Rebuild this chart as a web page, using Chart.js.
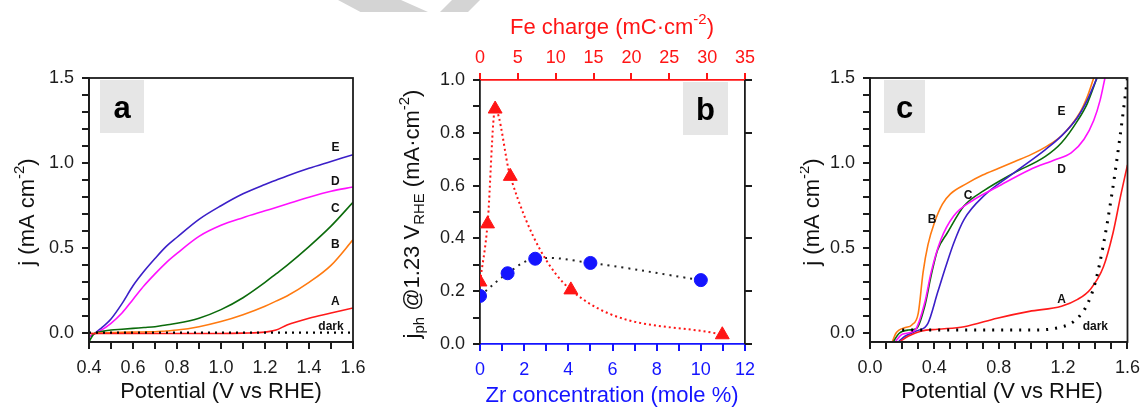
<!DOCTYPE html>
<html>
<head>
    <title>Photocurrent panels</title>
    <script src="https://cdn.jsdelivr.net/npm/chart.js"></script>
    <style>
        body { margin: 0; width: 1148px; height: 407px; background: #fff; overflow: hidden; position: relative; }
        canvas { position: absolute; top: 0; }
        #chartA { left: 0; }
        #chartB { left: 380px; }
        #chartC { left: 800px; }
        .shade { position: absolute; top: 0; height: 12px; background: #d4d4d4; }
    </style>
</head>
<body>
    <div class="shade" style="left:338px;width:90px;clip-path:polygon(0 0,70% 0,100% 100%,25% 100%)"></div>
    <div class="shade" style="left:440px;width:40px;clip-path:polygon(30% 0,100% 0,70% 100%,0 100%)"></div>
    <canvas id="chartA" width="375" height="407"></canvas>
    <canvas id="chartB" width="410" height="407"></canvas>
    <canvas id="chartC" width="348" height="407"></canvas>

    <script>
        // ---- panel a : j vs potential ----
        const aPotential = [0.40, 0.42, 0.45, 0.50, 0.55, 0.60, 0.65, 0.70, 0.75, 0.80, 0.90, 1.00, 1.10, 1.20, 1.25, 1.30, 1.40, 1.50, 1.60];
        const aE = [-0.02, -0.005, 0.025, 0.085, 0.175, 0.28, 0.365, 0.44, 0.51, 0.565, 0.67, 0.75, 0.82, 0.875, 0.90, 0.925, 0.97, 1.01, 1.05];
        const aD = [-0.02, -0.005, 0.015, 0.06, 0.12, 0.20, 0.28, 0.35, 0.415, 0.47, 0.57, 0.635, 0.68, 0.72, 0.74, 0.76, 0.80, 0.835, 0.86];
        const aC = [-0.05, -0.005, 0.01, 0.02, 0.025, 0.03, 0.035, 0.04, 0.05, 0.06, 0.09, 0.14, 0.21, 0.30, 0.35, 0.40, 0.51, 0.63, 0.77];
        const aB = [0.0, 0.0, 0.003, 0.005, 0.007, 0.008, 0.009, 0.01, 0.015, 0.02, 0.04, 0.07, 0.11, 0.16, 0.19, 0.22, 0.30, 0.40, 0.55];
        const aA = [0.0, 0.0, 0.0, 0.0, 0.0, 0.0, 0.0, 0.0, 0.0, 0.0, 0.0, 0.0, 0.002, 0.008, 0.02, 0.05, 0.09, 0.12, 0.15];
        const aDark = [0.005, 0.005, 0.005, 0.005, 0.005, 0.005, 0.005, 0.005, 0.005, 0.005, 0.005, 0.005, 0.005, 0.005, 0.005, 0.005, 0.005, 0.005, 0.005];
        const aLabelText = ['E', 'D', 'C', 'B', 'A', 'dark'];
        const aLabelX = [1.52, 1.52, 1.52, 1.52, 1.52, 1.50];
        const aLabelY = [1.09, 0.89, 0.735, 0.52, 0.185, 0.04];

        // ---- panel b : j_ph at 1.23 V vs Zr content / Fe charge ----
        const zrConc = [0, 1.25, 2.5, 5, 10];
        const zrJph = [0.182, 0.268, 0.323, 0.307, 0.242];
        const feCharge = [0, 1, 2, 4, 12, 32];
        const feJph = [0.235, 0.455, 0.89, 0.635, 0.205, 0.035];

        // ---- panel c : j vs potential with hole scavenger ----
        const cB_x = [0.14, 0.16, 0.18, 0.22, 0.26, 0.30, 0.33, 0.36, 0.40, 0.45, 0.50, 0.60, 0.70, 0.80, 0.90, 1.00, 1.10, 1.20, 1.30, 1.35, 1.39];
        const cB_y = [-0.045, 0.0, 0.02, 0.035, 0.05, 0.12, 0.36, 0.52, 0.65, 0.76, 0.82, 0.88, 0.93, 0.97, 1.01, 1.05, 1.10, 1.17, 1.29, 1.39, 1.50];
        const cC_x = [0.147, 0.18, 0.24, 0.29, 0.34, 0.38, 0.42, 0.48, 0.585, 0.71, 0.89, 1.09, 1.19, 1.29, 1.35, 1.41];
        const cC_y = [-0.045, 0.0, 0.02, 0.03, 0.16, 0.34, 0.49, 0.59, 0.75, 0.84, 0.94, 1.04, 1.12, 1.25, 1.35, 1.50];
        const cE_x = [0.18, 0.22, 0.29, 0.36, 0.42, 0.47, 0.52, 0.585, 0.71, 0.89, 1.09, 1.19, 1.29, 1.35, 1.41];
        const cE_y = [-0.045, -0.015, 0.015, 0.06, 0.24, 0.39, 0.53, 0.67, 0.81, 0.94, 1.08, 1.16, 1.27, 1.37, 1.50];
        const cD_x = [0.16, 0.20, 0.28, 0.34, 0.38, 0.44, 0.52, 0.645, 0.79, 0.99, 1.15, 1.25, 1.33, 1.39, 1.43, 1.46];
        const cD_y = [-0.045, -0.005, 0.02, 0.18, 0.36, 0.55, 0.69, 0.785, 0.86, 0.96, 1.02, 1.06, 1.14, 1.25, 1.37, 1.50];
        const cA_x = [0.19, 0.24, 0.32, 0.42, 0.585, 0.79, 0.99, 1.19, 1.29, 1.37, 1.45, 1.51, 1.56, 1.60];
        const cA_y = [-0.045, -0.015, 0.015, 0.025, 0.04, 0.09, 0.13, 0.16, 0.20, 0.26, 0.39, 0.59, 0.82, 0.99];
        const cDark_x = [0.20, 0.50, 0.80, 1.00, 1.15, 1.25, 1.30, 1.35, 1.40, 1.45, 1.50, 1.55, 1.60];
        const cDark_y = [0.02, 0.02, 0.02, 0.02, 0.03, 0.06, 0.10, 0.17, 0.30, 0.52, 0.80, 1.13, 1.50];
        const cLabelText = ['B', 'C', 'E', 'D', 'A', 'dark'];
        const cLabelX = [0.385, 0.61, 1.19, 1.19, 1.19, 1.40];
        const cLabelY = [0.67, 0.81, 1.30, 0.96, 0.20, 0.04];

        const FONT = '"Liberation Sans", Arial, sans-serif';
        const ink = '#1c1c1c';
        const colE = '#3b1fc8', colD = '#ff10ff', colC = '#0b6b0b', colB = '#ff7a10', colA = '#ff1a1a';
        const red = '#ff1515', blue = '#1414ff';

        function pts(xs, ys) {
            return xs.map((x, i) => ({ x: x, y: ys[i] }));
        }

        // text with sub/superscripts: parts = [[text, mode]], mode 1 = sup, -1 = sub
        function richText(ctx, parts, x, y, size, color, rotate) {
            ctx.save();
            ctx.translate(x, y);
            if (rotate) ctx.rotate(-Math.PI / 2);
            ctx.fillStyle = color;
            ctx.textBaseline = 'middle';
            ctx.textAlign = 'left';
            let total = 0;
            parts.forEach(([t, m]) => {
                ctx.font = (m ? size * 0.68 : size) + 'px ' + FONT;
                total += ctx.measureText(t).width;
            });
            let cx = -total / 2;
            parts.forEach(([t, m]) => {
                ctx.font = (m ? size * 0.68 : size) + 'px ' + FONT;
                ctx.fillText(t, cx, m === 1 ? -size * 0.36 : (m === -1 ? size * 0.32 : 0));
                cx += ctx.measureText(t).width;
            });
            ctx.restore();
        }

        // tick marks, panel letter box, curve labels, axis titles, frame
        const decor = {
            id: 'decor',
            beforeDatasetsDraw(chart, args, o) {
                const ctx = chart.ctx, ca = chart.chartArea;
                const bx = o.boxRight ? ca.right - o.boxRight - o.boxW : ca.left + o.boxLeft;
                ctx.save();
                ctx.fillStyle = '#e6e6e6';
                ctx.fillRect(bx, ca.top + 2, o.boxW, 53);
                ctx.fillStyle = '#000';
                ctx.font = 'bold 31px ' + FONT;
                ctx.textAlign = 'center';
                ctx.textBaseline = 'middle';
                ctx.fillText(o.letter, bx + o.boxW / 2, ca.top + 31);
                ctx.restore();
            },
            afterDraw(chart, args, o) {
                const ctx = chart.ctx, ca = chart.chartArea;
                ctx.save();
                ctx.setLineDash([]);
                ctx.lineWidth = 2;
                Object.keys(o.tickColors).forEach(id => {
                    const s = chart.scales[id];
                    ctx.strokeStyle = o.tickColors[id];
                    s.ticks.forEach(t => {
                        const p = Math.round(s.getPixelForValue(t.value));
                        ctx.beginPath();
                        if (s.position === 'bottom') { ctx.moveTo(p, ca.bottom); ctx.lineTo(p, ca.bottom + 7); }
                        if (s.position === 'top') { ctx.moveTo(p, ca.top); ctx.lineTo(p, ca.top - 7); }
                        if (s.position === 'left') { ctx.moveTo(ca.left, p); ctx.lineTo(ca.left - 7, p); }
                        if (s.position === 'right') { ctx.moveTo(ca.right, p); ctx.lineTo(ca.right + 7, p); }
                        ctx.stroke();
                    });
                });
                ctx.restore();
                if (o.frame) {
                    ctx.save();
                    ctx.strokeStyle = ink;
                    ctx.lineWidth = 1.8;
                    ctx.strokeRect(ca.left, ca.top, ca.right - ca.left, ca.bottom - ca.top);
                    ctx.restore();
                }
                if (o.labels) {
                    const xs = chart.scales.x, ys = chart.scales.y;
                    ctx.save();
                    ctx.fillStyle = '#111';
                    ctx.font = 'bold 12px ' + FONT;
                    ctx.textAlign = 'center';
                    ctx.textBaseline = 'middle';
                    o.labels.text.forEach((t, i) => {
                        ctx.fillText(t, xs.getPixelForValue(o.labels.x[i]), ys.getPixelForValue(o.labels.y[i]));
                    });
                    ctx.restore();
                }
                o.titles.forEach(t => richText(ctx, t.parts, t.x, t.y, 22, t.color || '#111', t.rotate));
            }
        };

        function scale(position, min, max, step, labelFn, color, size, pad) {
            return {
                type: 'linear', position: position, min: min, max: max,
                border: { display: true, color: color, width: 1.8 },
                grid: { display: true, drawOnChartArea: false, drawTicks: true, tickLength: 7, color: color, lineWidth: 2 },
                ticks: {
                    stepSize: step, autoSkip: false, maxRotation: 0, includeBounds: false,
                    color: color, padding: pad, font: { family: FONT, size: 18 }, callback: labelFn
                },
                afterFit: s => { if (s.isHorizontal()) s.height = size; else s.width = size; }
            };
        }

        const every = (n, d) => v => (Math.round(v * 10) % n === 0 ? v.toFixed(d) : '');
        const curve = (data, color, extra) => Object.assign({
            data: data, borderColor: color, borderWidth: 1.6, pointRadius: 0,
            cubicInterpolationMode: 'monotone', fill: false
        }, extra || {});

        const base = {
            responsive: false, animation: false,
            plugins: { legend: { display: false }, tooltip: { enabled: false } }
        };

        new Chart(document.getElementById('chartA'), {
            type: 'line',
            data: {
                datasets: [
                    curve(pts(aPotential, aDark), '#000', { borderDash: [2, 5], borderWidth: 2.4 }),
                    curve(pts(aPotential, aA), colA),
                    curve(pts(aPotential, aB), colB),
                    curve(pts(aPotential, aC), colC),
                    curve(pts(aPotential, aD), colD),
                    curve(pts(aPotential, aE), colE)
                ]
            },
            options: Object.assign({}, base, {
                layout: { padding: { top: 78, right: 22, left: 0, bottom: 0 } },
                scales: {
                    x: scale('bottom', 0.4, 1.6, 0.1, every(2, 1), ink, 65, 8),
                    y: scale('left', -0.05, 1.5, 0.1, every(5, 1), ink, 89, 8)
                },
                plugins: Object.assign({}, base.plugins, {
                    decor: {
                        letter: 'a', boxLeft: 11, boxW: 44, frame: true,
                        tickColors: { x: ink, y: ink },
                        labels: { text: aLabelText, x: aLabelX, y: aLabelY },
                        titles: [
                            { parts: [['Potential (V vs RHE)', 0]], x: 221, y: 392 },
                            { parts: [['j (mA cm', 0], ['-2', 1], [')', 0]], x: 28, y: 212, rotate: true }
                        ]
                    }
                })
            }),
            plugins: [decor]
        });

        new Chart(document.getElementById('chartB'), {
            type: 'line',
            data: {
                datasets: [
                    {
                        data: pts(feCharge, feJph), xAxisID: 'x2', yAxisID: 'y',
                        borderColor: red, borderWidth: 2, borderDash: [2, 3],
                        cubicInterpolationMode: 'monotone', fill: false,
                        pointStyle: 'triangle', pointRadius: 8,
                        pointBackgroundColor: red, pointBorderColor: red, pointBorderWidth: 1
                    },
                    {
                        data: pts(zrConc, zrJph), xAxisID: 'x', yAxisID: 'y',
                        borderColor: '#222', borderWidth: 2, borderDash: [2, 5],
                        tension: 0.4, fill: false,
                        pointStyle: 'circle', pointRadius: 6.5,
                        pointBackgroundColor: blue, pointBorderColor: blue, pointBorderWidth: 1
                    }
                ]
            },
            options: Object.assign({}, base, {
                layout: { padding: 0 },
                scales: {
                    x: scale('bottom', 0, 12, 1, v => (v % 2 === 0 ? String(v) : ''), blue, 63, 8),
                    x2: scale('top', 0, 35, 5, v => String(v), red, 80, 4),
                    y: scale('left', 0, 1, 0.1, every(2, 1), ink, 100, 8),
                    y2: scale('right', 0, 1, 0.2, () => '', ink, 45, 0)
                },
                plugins: Object.assign({}, base.plugins, {
                    decor: {
                        letter: 'b', boxRight: 17, boxW: 45, frame: false,
                        tickColors: { x: blue, x2: red, y: ink, y2: ink },
                        titles: [
                            { parts: [['Zr concentration (mole %)', 0]], x: 232, y: 396, color: blue },
                            { parts: [['Fe charge (mC\u00b7cm', 0], ['-2', 1], [')', 0]], x: 232, y: 28, color: red },
                            {
                                parts: [['j', 0], ['ph', -1], [' @1.23 V', 0], ['RHE', -1], [' (mA\u00b7cm', 0], ['-2', 1], [')', 0]],
                                x: 33, y: 214, rotate: true
                            }
                        ]
                    }
                })
            }),
            plugins: [decor]
        });

        new Chart(document.getElementById('chartC'), {
            type: 'line',
            data: {
                datasets: [
                    curve(pts(cDark_x, cDark_y), '#000', { borderDash: [2, 7], borderWidth: 3 }),
                    curve(pts(cA_x, cA_y), colA),
                    curve(pts(cD_x, cD_y), colD),
                    curve(pts(cE_x, cE_y), colE),
                    curve(pts(cC_x, cC_y), colC),
                    curve(pts(cB_x, cB_y), colB)
                ]
            },
            options: Object.assign({}, base, {
                layout: { padding: { top: 78, right: 14, left: 0, bottom: 0 } },
                scales: {
                    x: scale('bottom', 0, 1.6, 0.1, every(4, 1), ink, 65, 8),
                    y: scale('left', -0.05, 1.5, 0.1, every(5, 1), ink, 70, 8)
                },
                plugins: Object.assign({}, base.plugins, {
                    decor: {
                        letter: 'c', boxLeft: 14, boxW: 41, frame: true,
                        tickColors: { x: ink, y: ink },
                        labels: { text: cLabelText, x: cLabelX, y: cLabelY },
                        titles: [
                            { parts: [['Potential (V vs RHE)', 0]], x: 202, y: 392 },
                            { parts: [['j (mA cm', 0], ['-2', 1], [')', 0]], x: 13, y: 212, rotate: true }
                        ]
                    }
                })
            }),
            plugins: [decor]
        });
    </script>
</body>
</html>
